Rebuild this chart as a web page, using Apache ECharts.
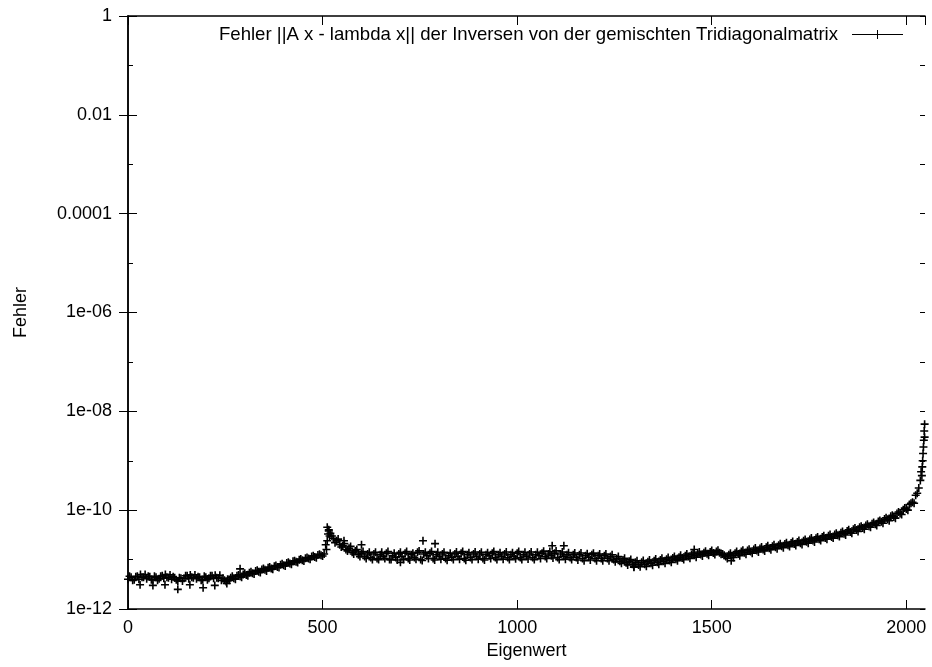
<!DOCTYPE html>
<html>
<head>
<meta charset="utf-8">
<script src="https://cdn.jsdelivr.net/npm/echarts@6/dist/echarts.min.js"></script>
<style>
  html, body { margin: 0; padding: 0; background: #fff; }
  #chart { width: 932px; height: 667px; }
</style>
</head>
<body>
<div id="chart"></div>
<script>
const schritt = 8;
const fehler = [
  4.0e-12, 4.4e-12, 3.9e-12, 4.6e-12, 5.0e-12, 4.4e-12, 4.1e-12, 4.5e-12,
  3.9e-12, 4.4e-12, 4.1e-12, 4.7e-12, 5.0e-12, 4.3e-12, 4.0e-12, 4.3e-12,
  3.7e-12, 4.2e-12, 4.2e-12, 4.7e-12, 4.9e-12, 4.3e-12, 4.1e-12, 4.4e-12,
  3.9e-12, 4.4e-12, 4.2e-12, 4.7e-12, 4.8e-12, 4.2e-12, 3.8e-12, 3.8e-12,
  4.0e-12, 4.3e-12, 4.2e-12, 4.7e-12, 4.6e-12, 5.0e-12, 4.9e-12, 5.4e-12,
  5.3e-12, 5.9e-12, 5.7e-12, 6.3e-12, 6.2e-12, 6.8e-12, 6.6e-12, 7.3e-12,
  7.1e-12, 7.9e-12, 7.7e-12, 8.5e-12, 8.3e-12, 9.2e-12, 9.0e-12, 9.9e-12,
  9.7e-12, 1.07e-11, 1.05e-11, 1.15e-11, 1.13e-11, 1.24e-11, 1.22e-11, 1.3e-11,
  4.5e-11, 3.4e-11, 2.7e-11, 2.4e-11, 2.0e-11, 1.9e-11, 1.6e-11, 1.7e-11,
  1.4e-11, 1.5e-11, 1.25e-11, 1.35e-11, 1.15e-11, 1.3e-11, 1.1e-11, 1.3e-11,
  1.05e-11, 1.25e-11, 1.15e-11, 1.35e-11, 1.0e-11, 1.2e-11, 1.1e-11, 1.3e-11,
  1.15e-11, 1.35e-11, 1.05e-11, 1.25e-11, 1.1e-11, 1.4e-11, 1.0e-11, 1.3e-11,
  1.2e-11, 1.35e-11, 1.05e-11, 1.25e-11, 1.15e-11, 1.3e-11, 1.05e-11, 1.2e-11,
  1.1e-11, 1.3e-11, 1.15e-11, 1.35e-11, 1.05e-11, 1.25e-11, 1.1e-11, 1.3e-11,
  1.15e-11, 1.3e-11, 1.05e-11, 1.25e-11, 1.2e-11, 1.35e-11, 1.1e-11, 1.25e-11,
  1.15e-11, 1.3e-11, 1.1e-11, 1.25e-11, 1.15e-11, 1.35e-11, 1.1e-11, 1.25e-11,
  1.15e-11, 1.3e-11, 1.1e-11, 1.25e-11, 1.2e-11, 1.35e-11, 1.15e-11, 1.3e-11,
  1.2e-11, 1.35e-11, 1.1e-11, 1.3e-11, 1.15e-11, 1.25e-11, 1.1e-11, 1.25e-11,
  1.1e-11, 1.25e-11, 1.05e-11, 1.2e-11, 1.1e-11, 1.25e-11, 1.05e-11, 1.2e-11,
  1.05e-11, 1.2e-11, 1.05e-11, 1.15e-11, 1.0e-11, 1.05e-11, 0.92e-11, 0.98e-11,
  0.86e-11, 0.93e-11, 0.8e-11, 0.88e-11, 0.78e-11, 0.88e-11, 0.8e-11, 0.9e-11,
  0.84e-11, 0.95e-11, 0.88e-11, 0.98e-11, 0.92e-11, 1.02e-11, 0.96e-11, 1.08e-11,
  1.02e-11, 1.12e-11, 1.08e-11, 1.2e-11, 1.15e-11, 1.27e-11, 1.22e-11, 1.33e-11,
  1.27e-11, 1.38e-11, 1.32e-11, 1.42e-11, 1.36e-11, 1.45e-11, 1.38e-11, 1.3e-11,
  1.15e-11, 1.25e-11, 1.2e-11, 1.35e-11, 1.3e-11, 1.45e-11, 1.38e-11, 1.52e-11,
  1.45e-11, 1.6e-11, 1.52e-11, 1.68e-11, 1.6e-11, 1.78e-11, 1.7e-11, 1.87e-11,
  1.78e-11, 1.96e-11, 1.86e-11, 2.06e-11, 1.96e-11, 2.17e-11, 2.06e-11, 2.28e-11,
  2.15e-11, 2.4e-11, 2.3e-11, 2.55e-11, 2.42e-11, 2.7e-11, 2.58e-11, 2.87e-11,
  2.72e-11, 3.02e-11, 2.88e-11, 3.2e-11, 3.1e-11, 3.5e-11, 3.35e-11, 3.8e-11,
  3.6e-11, 4.1e-11, 3.95e-11, 4.5e-11, 4.35e-11, 4.9e-11, 4.75e-11, 5.3e-11,
  5.2e-11, 5.9e-11, 5.8e-11, 6.6e-11, 6.5e-11, 7.5e-11, 7.3e-11, 8.6e-11,
  8.6e-11, 1.02e-10, 1.05e-10, 1.3e-10, 1.45e-10, 2.0e-10, 2.8e-10, 5.0e-10
];

// Zwischenwerte (Eigenwert 4, 12, ..., 2044)
const fehlerMitte = [
  4.6e-12, 3.8e-12, 4.5e-12, 4.0e-12, 4.4e-12, 5.0e-12, 4.6e-12, 3.9e-12,
  4.6e-12, 3.8e-12, 4.6e-12, 4.2e-12, 4.4e-12, 4.9e-12, 4.5e-12, 3.9e-12,
  4.3e-12, 3.7e-12, 4.7e-12, 4.1e-12, 4.4e-12, 4.9e-12, 4.5e-12, 3.8e-12,
  4.6e-12, 3.9e-12, 4.7e-12, 4.2e-12, 4.3e-12, 4.8e-12, 4.2e-12, 3.6e-12,
  3.8e-12, 4.6e-12, 4.0e-12, 4.9e-12, 4.4e-12, 5.3e-12, 4.7e-12, 5.7e-12,
  5.1e-12, 6.1e-12, 5.5e-12, 6.6e-12, 5.9e-12, 7.1e-12, 6.4e-12, 7.6e-12,
  6.9e-12, 8.2e-12, 7.4e-12, 8.8e-12, 8.0e-12, 9.5e-12, 8.7e-12, 1.03e-11,
  9.4e-12, 1.1e-11, 1.01e-11, 1.19e-11, 1.09e-11, 1.28e-11, 1.18e-11, 2.0e-11,
  3.8e-11, 3.0e-11, 2.2e-11, 2.6e-11, 1.8e-11, 2.1e-11, 1.5e-11, 1.85e-11,
  1.3e-11, 1.6e-11, 1.15e-11, 1.45e-11, 1.05e-11, 1.4e-11, 1.0e-11, 1.4e-11,
  1.0e-11, 1.4e-11, 1.05e-11, 1.45e-11, 1.0e-11, 1.35e-11, 0.98e-11, 1.4e-11,
  1.0e-11, 1.45e-11, 0.98e-11, 1.35e-11, 1.02e-11, 1.5e-11, 0.96e-11, 1.4e-11,
  1.05e-11, 1.45e-11, 0.98e-11, 1.4e-11, 1.02e-11, 1.4e-11, 0.97e-11, 1.35e-11,
  1.0e-11, 1.42e-11, 1.02e-11, 1.45e-11, 0.97e-11, 1.38e-11, 1.0e-11, 1.42e-11,
  1.02e-11, 1.4e-11, 0.98e-11, 1.38e-11, 1.05e-11, 1.45e-11, 1.0e-11, 1.38e-11,
  1.02e-11, 1.42e-11, 1.0e-11, 1.38e-11, 1.04e-11, 1.45e-11, 1.0e-11, 1.4e-11,
  1.03e-11, 1.42e-11, 1.0e-11, 1.4e-11, 1.05e-11, 1.48e-11, 1.05e-11, 1.45e-11,
  1.08e-11, 1.5e-11, 1.0e-11, 1.42e-11, 1.02e-11, 1.38e-11, 1.0e-11, 1.36e-11,
  0.98e-11, 1.36e-11, 0.95e-11, 1.32e-11, 0.98e-11, 1.35e-11, 0.95e-11, 1.3e-11,
  0.95e-11, 1.3e-11, 0.95e-11, 1.25e-11, 0.9e-11, 1.15e-11, 0.84e-11, 1.06e-11,
  0.78e-11, 1.0e-11, 0.72e-11, 0.95e-11, 0.72e-11, 0.96e-11, 0.73e-11, 0.98e-11,
  0.77e-11, 1.03e-11, 0.8e-11, 1.06e-11, 0.84e-11, 1.1e-11, 0.88e-11, 1.16e-11,
  0.95e-11, 1.22e-11, 1.0e-11, 1.3e-11, 1.06e-11, 1.36e-11, 1.12e-11, 1.42e-11,
  1.18e-11, 1.48e-11, 1.22e-11, 1.52e-11, 1.26e-11, 1.55e-11, 1.28e-11, 1.22e-11,
  1.05e-11, 1.35e-11, 1.1e-11, 1.45e-11, 1.2e-11, 1.55e-11, 1.28e-11, 1.62e-11,
  1.35e-11, 1.72e-11, 1.42e-11, 1.8e-11, 1.5e-11, 1.9e-11, 1.58e-11, 2.0e-11,
  1.66e-11, 2.1e-11, 1.74e-11, 2.2e-11, 1.83e-11, 2.32e-11, 1.93e-11, 2.44e-11,
  2.02e-11, 2.56e-11, 2.15e-11, 2.72e-11, 2.27e-11, 2.88e-11, 2.42e-11, 3.05e-11,
  2.58e-11, 3.22e-11, 2.72e-11, 3.42e-11, 2.92e-11, 3.7e-11, 3.15e-11, 4.0e-11,
  3.42e-11, 4.35e-11, 3.72e-11, 4.75e-11, 4.1e-11, 5.2e-11, 4.5e-11, 5.6e-11,
  4.9e-11, 6.2e-11, 5.45e-11, 7.0e-11, 6.1e-11, 7.9e-11, 6.9e-11, 9.2e-11,
  8.2e-11, 1.1e-10, 1.0e-10, 1.38e-10, 1.38e-10, 2.2e-10, 4.0e-10, 1.9e-9
];

// einzelne Punkte ausserhalb des Bandes [Eigenwert, Fehler]
const ausreisser = [
  [31, 3.1e-12], [64, 3.0e-12], [95, 3.1e-12], [128, 2.5e-12],
  [159, 3.1e-12], [193, 2.7e-12], [223, 3.0e-12], [254, 3.3e-12],
  [288, 6.5e-12], [510, 1.6e-11], [512, 2.4e-11], [514, 3.3e-11],
  [516, 4.0e-11], [518, 3.0e-11], [555, 2.4e-11], [600, 2.0e-11],
  [758, 2.4e-11], [789, 2.1e-11], [1090, 1.9e-11], [1120, 1.9e-11],
  [1455, 1.6e-11], [700, 8.8e-12], [1300, 7.0e-12], [1550, 9.5e-12]
];

// letzte Eigenwerte, steiler Anstieg
const endstueck = [
  [2038, 6.0e-10], [2041, 7.5e-10], [2042, 1.0e-9], [2043, 1.4e-9],
  [2045, 2.6e-9], [2046, 4.0e-9], [2047, 5.5e-9], [2047, 3.0e-9]
];

const yTickLabels = ['1e-12', '1e-10', '1e-08', '1e-06', '0.0001', '0.01', '1'];

const legendText = 'Fehler ||A x - lambda x|| der Inversen von der gemischten Tridiagonalmatrix';

const punkte = fehler.map((v, i) => [i * schritt, v])
  .concat(fehlerMitte.map((v, i) => [i * schritt + 4, v]), ausreisser, endstueck);

const schrift = 'Liberation Sans, Arial, sans-serif';
// Plus-Zeichen mit etwas kraeftigeren Armen
const plus = 'path://M3.2,0h1.6v3.2h3.2v1.6h-3.2v3.2h-1.6v-3.2h-3.2v-1.6h3.2z';

const myChart = echarts.init(document.getElementById('chart'));

function yLabel(v) {
  const e = Math.round(Math.log10(v));
  if (e % 2 !== 0) return '';
  return yTickLabels[(e + 12) / 2] || '';
}

const linie = { show: true, lineStyle: { color: '#000', width: 1.5 } };
const tickLang = { inside: true, length: 9, lineStyle: { color: '#000', width: 1 } };
const tickKurz = { inside: true, length: 5, lineStyle: { color: '#000', width: 1 } };

myChart.setOption({
  animation: false,
  backgroundColor: '#fff',
  textStyle: { fontFamily: schrift, color: '#000' },
  grid: { left: 128, right: 7, top: 16, bottom: 58, containLabel: false },
  legend: {
    data: [legendText],
    right: 29,
    top: 25,
    padding: 0,
    align: 'right',
    itemWidth: 51,
    itemHeight: 9,
    icon: 'path://M0,4h51v1h-51zM25,0h1v9h-1z',
    textStyle: { fontSize: 18.6, color: '#000', fontFamily: schrift, padding: [0, 9, 0, 0] }
  },
  xAxis: [
    {
      type: 'value', position: 'bottom', min: 0, max: 2048, interval: 500,
      axisLine: linie,
      axisTick: tickLang,
      axisLabel: { fontSize: 18, color: '#000', margin: 10, showMaxLabel: false,
        formatter: (v) => String(v) },
      splitLine: { show: false },
      name: 'Eigenwert', nameLocation: 'middle', nameGap: 32,
      nameTextStyle: { fontSize: 18, color: '#000' }
    },
    {
      type: 'value', position: 'top', min: 0, max: 2048, interval: 500,
      axisLine: linie,
      axisTick: tickLang,
      axisLabel: { show: false },
      splitLine: { show: false }
    }
  ],
  yAxis: [
    {
      type: 'log', logBase: 10, position: 'left', min: 1e-12, max: 1, interval: 2,
      axisLine: linie,
      axisTick: tickLang,
      axisLabel: { fontSize: 18, color: '#000', margin: 16, formatter: yLabel },
      splitLine: { show: false },
      name: 'Fehler', nameLocation: 'middle', nameGap: 98, nameRotate: 90,
      nameTextStyle: { fontSize: 18, color: '#000' }
    },
    {
      type: 'log', logBase: 10, position: 'right', min: 1e-12, max: 1, interval: 2,
      axisLine: linie,
      axisTick: tickLang,
      axisLabel: { show: false },
      splitLine: { show: false }
    },
    {
      type: 'log', logBase: 10, position: 'left', min: 1e-12, max: 1, interval: 1,
      axisLine: { show: false },
      axisTick: tickKurz,
      axisLabel: { show: false },
      splitLine: { show: false }
    },
    {
      type: 'log', logBase: 10, position: 'right', min: 1e-12, max: 1, interval: 1,
      axisLine: { show: false },
      axisTick: tickKurz,
      axisLabel: { show: false },
      splitLine: { show: false }
    }
  ],
  series: [
    {
      name: legendText,
      type: 'scatter',
      xAxisIndex: 0,
      yAxisIndex: 0,
      symbol: plus,
      symbolSize: 8,
      itemStyle: { color: '#000', opacity: 1 },
      emphasis: { disabled: true },
      data: punkte
    }
  ]
});
</script>
</body>
</html>
